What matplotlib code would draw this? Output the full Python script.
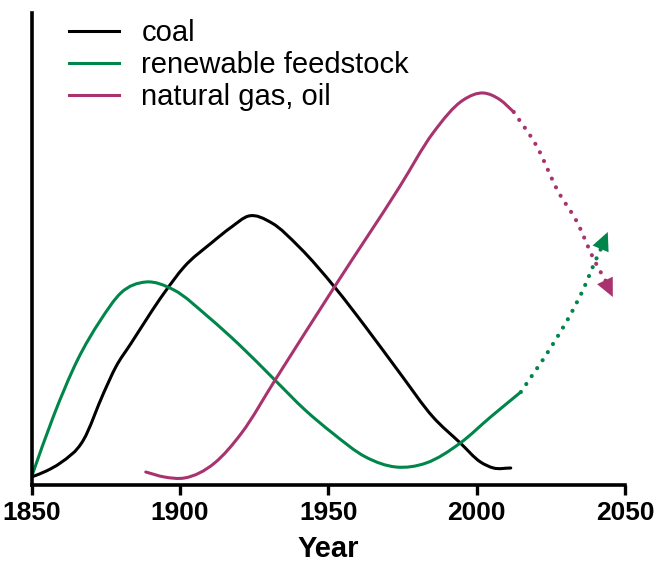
import matplotlib
matplotlib.use("Agg")
import matplotlib.pyplot as plt
from matplotlib.path import Path
from matplotlib.patches import PathPatch, FancyArrowPatch
from matplotlib.lines import Line2D

plt.rcParams['font.family'] = ['Liberation Sans', 'DejaVu Sans']

# ---- data (arbitrary units) ----
coal_years = [1850, 1855, 1859.7, 1867.5, 1874.3, 1878.4, 1883.4, 1894.7, 1901.4, 1910.6,
              1917.4, 1923.2, 1931, 1940.2, 1952.4, 1962.6, 1974.1, 1985.3, 1994.5,
              2001.3, 2005.7, 2011.5]
coal_vals = [8, 14, 22, 45, 92, 118, 141, 192, 218, 242,
             258, 269, 262, 238, 197, 158, 112, 68, 42,
             23, 17, 17]

renew_years = [1850, 1857.3, 1865.5, 1873.3, 1880.1, 1888.5, 1898, 1909.6, 1920.1,
               1932, 1942.2, 1951.4, 1962.6, 1972.8, 1983, 1994.5, 2004.7, 2014.9]
renew_vals = [8, 68, 125, 165, 192, 203, 195, 168, 140,
              105, 75, 52, 28, 18, 22, 42, 68, 93]
renew_proj_years = [2014.9, 2025.1, 2031.9, 2036.3, 2039.7, 2042.0]
renew_proj_vals = [93, 138, 172, 198, 222, 237]
renew_tip = (2044.2, 253)

gas_years = [1888.5, 1894.8, 1901.5, 1911.7, 1920.8, 1932.1, 1952.5, 1974, 1985.3,
             1995.5, 2002.3, 2008, 2012.5]
gas_vals = [13, 8, 7, 22, 52, 105, 200, 298, 352,
            385, 392, 385, 373]
gas_proj_years = [2012.5, 2020.4, 2027.2, 2034, 2039.6, 2043.5]
gas_proj_vals = [373, 338, 295, 262, 225, 204]
gas_tip = (2045.9, 188)

x_ticks = [1850, 1900, 1950, 2000, 2050]
labels = ['coal', 'renewable feedstock', 'natural gas, oil']
c_coal = '#000000'
c_renew = '#00854a'
c_gas = '#a8336e'


def smooth_path(xs, ys):
    """Cubic Bezier path through the given points (Hermite tangents in x)."""
    n = len(xs)
    h = [xs[i + 1] - xs[i] for i in range(n - 1)]
    d = [(ys[i + 1] - ys[i]) / h[i] for i in range(n - 1)]
    m = [d[0]]
    for i in range(1, n - 1):
        m.append((d[i - 1] * h[i] + d[i] * h[i - 1]) / (h[i - 1] + h[i]))
    m.append(d[-1])
    verts = [(xs[0], ys[0])]
    codes = [Path.MOVETO]
    for i in range(n - 1):
        k = h[i] / 3
        verts += [(xs[i] + k, ys[i] + k * m[i]),
                  (xs[i + 1] - k, ys[i + 1] - k * m[i + 1]),
                  (xs[i + 1], ys[i + 1])]
        codes += [Path.CURVE4] * 3
    return Path(verts, codes)


W, H = 657, 563
fig = plt.figure(figsize=(W / 100, H / 100), dpi=100)
ax = fig.add_axes([31.5 / W, 1 - 485 / H, (625 - 31.5) / W, (485 - 13) / H])

lw = 2.2
for xs, ys, col in [(coal_years, coal_vals, c_coal),
                    (renew_years, renew_vals, c_renew),
                    (gas_years, gas_vals, c_gas)]:
    ax.add_patch(PathPatch(smooth_path(xs, ys), facecolor='none', edgecolor=col,
                           lw=lw, capstyle='round', joinstyle='round'))

dot = (0, (0.01, 2.3))
for xs, ys, col in [(renew_proj_years, renew_proj_vals, c_renew),
                    (gas_proj_years, gas_proj_vals, c_gas)]:
    ax.add_patch(PathPatch(smooth_path(xs, ys), facecolor='none', edgecolor=col,
                           lw=3, linestyle=dot, capstyle='round'))

for tip, xs, ys, col in [(renew_tip, renew_proj_years, renew_proj_vals, c_renew),
                         (gas_tip, gas_proj_years, gas_proj_vals, c_gas)]:
    arr = FancyArrowPatch(posA=(xs[-3], ys[-3]), posB=tip,
                          arrowstyle='-|>,head_length=0.55,head_width=0.26',
                          mutation_scale=24, facecolor=col, edgecolor=col,
                          shrinkA=0, shrinkB=0, zorder=5)
    arr.set_linewidth(0.01)
    ax.add_patch(arr)

ax.set_xlim(1850, 2050)
ax.set_ylim(0, 472)
ax.set_xticks(x_ticks)
ax.set_xticklabels([str(t) for t in x_ticks], fontsize=19, fontweight='bold')
ax.set_yticks([])
ax.spines['top'].set_visible(False)
ax.spines['right'].set_visible(False)
for s in ['left', 'bottom']:
    ax.spines[s].set_linewidth(2.6)
ax.tick_params(axis='x', length=7.5, width=2.4, pad=4, direction='out')
ax.set_xlabel('Year', fontsize=21, fontweight='bold', labelpad=7)

handles = [Line2D([], [], color=c, lw=lw) for c in (c_coal, c_renew, c_gas)]
ax.legend(handles, labels, loc='upper left', bbox_to_anchor=(69 / W, 1 - 19 / H),
          bbox_transform=fig.transFigure, frameon=False, fontsize=21,
          handlelength=1.7, handletextpad=0.78, labelspacing=0.14,
          borderpad=0, borderaxespad=0)

fig.savefig('out.png', dpi=100)
